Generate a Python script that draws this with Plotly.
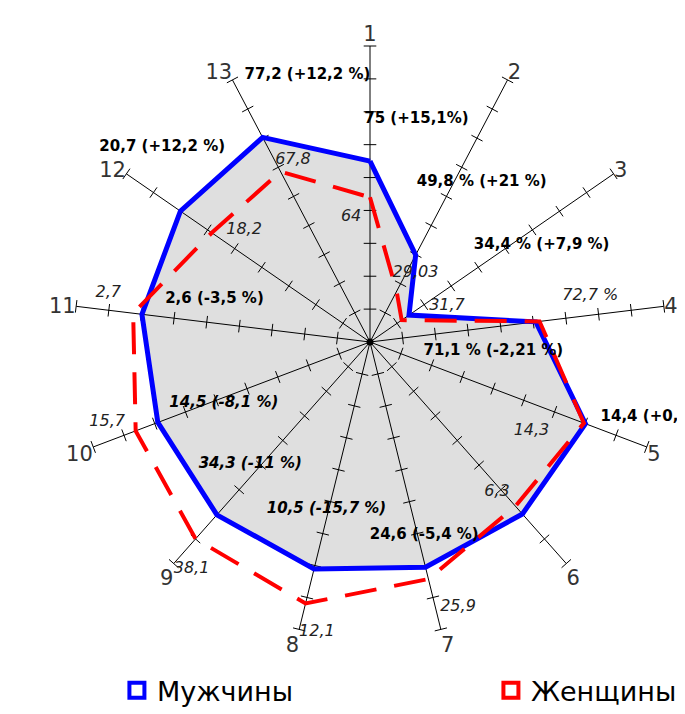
import plotly.graph_objects as go

# ---------------- data ----------------
axis_labels = ["1", "2", "3", "4", "5", "6", "7", "8", "9", "10", "11", "12", "13"]
men = [75, 49.8, 34.4, 71.1, 14.4, 6.6, 24.6, 10.5, 34.3, 14.5, 2.6, 20.7, 77.2]
women = [64, 29.03, 31.7, 72.7, 14.3, 6.3, 25.9, 12.1, 38.1, 15.7, 2.7, 18.2, 67.8]
# each spoke has its own scale (min at centre, max at spoke end)
axis_min = [20, 0, 20, 0, 0, 0, 0, 0, 7, 3, 0, 5.6, 21]
axis_max = [110, 150, 110, 126, 18.5, 8.5, 31.4, 13.3, 42, 18, 3.35, 25, 93]
men_text = ["75 (+15,1%)", "49,8 % (+21 %)", "34,4 % (+7,9 %)", "71,1 % (-2,21 %)",
            "14,4 (+0,7 %)", "6,6 (+4 %)", "24,6 (-5,4 %)", "10,5 (-15,7 %)",
            "34,3 (-11 %)", "14,5 (-8,1 %)", "2,6 (-3,5 %)", "20,7 (+12,2 %)",
            "77,2 (+12,2 %)"]
women_text = ["64", "29,03", "31,7", "72,7 %", "14,3", "6,3", "25,9", "12,1",
              "38,1", "15,7", "2,7", "18,2", "67,8"]
series_names = ["Мужчины", "Женщины"]
n_ticks = 9

# ---------------- layout helpers (positions / styles) ----------------
n = len(axis_labels)
theta = [i * 360.0 / n for i in range(n)]

def norm(vals):
    return [(v - lo) / (hi - lo) for v, lo, hi in zip(vals, axis_min, axis_max)]

men_r = norm(men)
women_r = norm(women)

# label placements (r, theta) in the normalised polar frame
men_lab_pos = [(0.768, 11.8), (0.658, 35.0), (0.665, 60.7), (0.418, 94.4),
               (0.819, 108.0), (1.032, 130.2), (0.677, 164.3), (0.583, 194.6),
               (0.577, 224.5), (0.536, 247.1), (0.545, 285.4), (0.963, 313.2),
               (0.925, 346.8)]
men_italic = [False, False, False, False, False, False, False, True, True, True,
              False, False, False]
men_anchor = ["middle center"] * n
men_anchor[4] = "middle right"
women_lab_pos = [(0.427, 351.4), (0.280, 33.3), (0.287, 65.0), (0.760, 78.2),
                 (0.623, 118.9), (0.664, 139.8), (0.942, 161.6), (0.995, 190.4),
                 (0.975, 218.2), (0.928, 253.1), (0.900, 280.7), (0.570, 311.7),
                 (0.669, 337.1)]

BLUE = "#0000FF"
RED = "#FF0000"

fig = go.Figure()

# filled area under the men polygon
fig.add_trace(go.Scatterpolar(r=men_r + [men_r[0]], theta=theta + [theta[0]],
                              mode="none", fill="toself",
                              fillcolor="rgba(150,150,150,0.30)",
                              showlegend=False, hoverinfo="skip"))

# spokes
sp_r, sp_t = [], []
for t in theta:
    sp_r += [0, 1, None]
    sp_t += [t, t, None]
fig.add_trace(go.Scatterpolar(r=sp_r, theta=sp_t, mode="lines",
                              line=dict(color="black", width=1),
                              showlegend=False, hoverinfo="skip"))

# tick marks on each spoke
tk_r, tk_t, tk_a = [], [], []
for t in theta:
    for j in range(1, n_ticks + 1):
        tk_r.append(j / n_ticks)
        tk_t.append(t)
        tk_a.append(t)
fig.add_trace(go.Scatterpolar(r=tk_r, theta=tk_t, mode="markers",
                              marker=dict(symbol="line-ew", size=9, angle=tk_a,
                                          color="black",
                                          line=dict(color="black", width=1)),
                              showlegend=False, hoverinfo="skip"))

# men line
fig.add_trace(go.Scatterpolar(r=men_r + [men_r[0]], theta=theta + [theta[0]],
                              mode="lines", line=dict(color=BLUE, width=5),
                              showlegend=False, name=series_names[0]))
# women dashed line
fig.add_trace(go.Scatterpolar(r=women_r + [women_r[0]], theta=theta + [theta[0]],
                              mode="lines",
                              line=dict(color=RED, width=4, dash="32px,18px"),
                              showlegend=False, name=series_names[1]))

# centre dot
fig.add_trace(go.Scatterpolar(r=[0], theta=[0], mode="markers",
                              marker=dict(color="black", size=7),
                              showlegend=False, hoverinfo="skip"))

# men value labels
mt = []
for s, it in zip(men_text, men_italic):
    mt.append(f"<b><i>{s}</i></b>" if it else f"<b>{s}</b>")
fig.add_trace(go.Scatterpolar(r=[p[0] for p in men_lab_pos],
                              theta=[p[1] for p in men_lab_pos],
                              mode="text", text=mt, textposition=men_anchor,
                              textfont=dict(family="DejaVu Sans", size=15, color="black"),
                              cliponaxis=False, showlegend=False, hoverinfo="skip"))
# women value labels
fig.add_trace(go.Scatterpolar(r=[p[0] for p in women_lab_pos],
                              theta=[p[1] for p in women_lab_pos],
                              mode="text", text=[f"<i>{s}</i>" for s in women_text],
                              textposition="middle center",
                              textfont=dict(family="DejaVu Sans", size=16, color="#222222"),
                              cliponaxis=False, showlegend=False, hoverinfo="skip"))

# legend entries (two separate legends, spread across the bottom)
fig.add_trace(go.Scatterpolar(r=[None], theta=[None], mode="markers",
                              name=series_names[0], legend="legend",
                              marker=dict(symbol="square-open", size=15, color=BLUE,
                                          line=dict(color=BLUE, width=4))))
fig.add_trace(go.Scatterpolar(r=[None], theta=[None], mode="markers",
                              name=series_names[1], legend="legend2",
                              marker=dict(symbol="square-open", size=15, color=RED,
                                          line=dict(color=RED, width=4))))

legend_style = dict(orientation="h", xref="container", yref="container",
                    xanchor="left", y=0.044, yanchor="middle",
                    font=dict(family="DejaVu Sans", size=27, color="black"))

fig.update_layout(
    width=685, height=714,
    margin=dict(l=66, r=27, t=38, b=84),
    paper_bgcolor="white",
    font=dict(family="DejaVu Sans", color="black"),
    polar=dict(
        bgcolor="white",
        angularaxis=dict(rotation=90, direction="clockwise", thetaunit="degrees",
                         tickmode="array", tickvals=theta, ticktext=axis_labels,
                         showgrid=False, showline=False, ticks="",
                         tickfont=dict(family="DejaVu Sans", size=21, color="#333333")),
        radialaxis=dict(visible=False, range=[0, 1]),
    ),
    legend=dict(x=0.159, **legend_style),
    legend2=dict(x=0.705, **legend_style),
)

fig.write_html("out.html")
